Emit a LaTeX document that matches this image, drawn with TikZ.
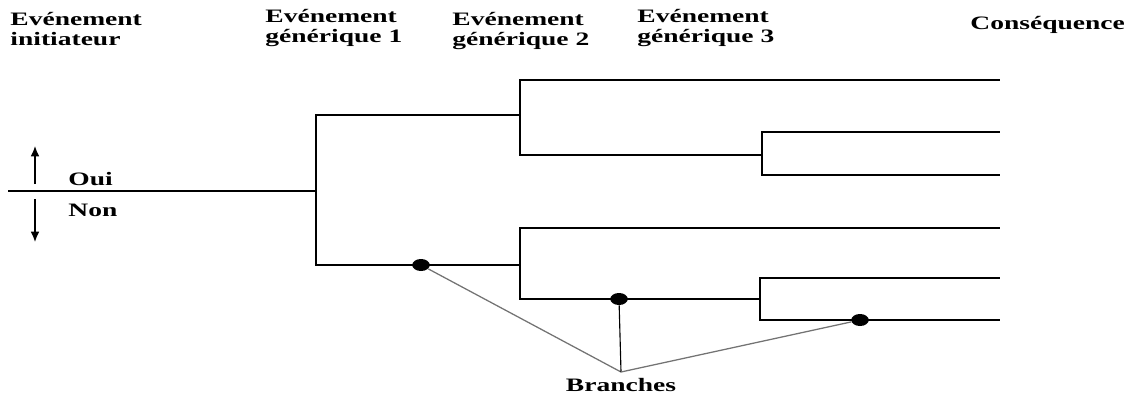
\documentclass[tikz,border=0pt]{standalone}
\usepackage{fontspec}
\setmainfont{Liberation Serif}
\usetikzlibrary{arrows.meta, positioning, shapes.geometric}

\begin{document}
\begin{tikzpicture}[x=0.025cm, y=-0.025cm,
        lbl/.style={font=\bfseries\fontsize{13.5}{14.5}\selectfont,
                    xscale=1.45, inner sep=0pt, align=left},
        tree/.style={line width=0.8pt},
        ptr/.style={line width=0.9pt, black!55},
        dot/.style={ellipse, fill=black, inner sep=0pt,
                    minimum width=0.44cm, minimum height=0.3cm},
        dir/.style={-{Latex[length=2.6mm,width=2.2mm]}, line width=0.9pt}]
      \useasboundingbox (0,0) rectangle (1136,394);
      % column headings
      \node[lbl, anchor=north west] (h0) at (10,12) {Evénement\\initiateur};
      \node[lbl, anchor=north west] (h1) at (265,9) {Evénement\\générique 1};
      \node[lbl, anchor=north west] (h2) at (452,12) {Evénement\\générique 2};
      \node[lbl, anchor=north west] (h3) at (637,9) {Evénement\\générique 3};
      \node[lbl, anchor=north west] (h4) at (970,16) {Conséquence};
      % junctions and ends
      \coordinate (s) at (8,191);
      \coordinate (j1) at (316,191);
      \coordinate (j2) at (520,115);
      \coordinate (j3) at (520,265);
      \coordinate (j4) at (762,155);
      \coordinate (j5) at (760,299);
      \coordinate (e1) at (1000,80);
      \coordinate (e2) at (1000,132);
      \coordinate (e3) at (1000,175);
      \coordinate (e4) at (1000,228);
      \coordinate (e5) at (1000,278);
      \coordinate (e6) at (1000,320);
      % tree
      \draw[tree] (s) -- (j1);
      \draw[tree] (j1) |- (j2);
      \draw[tree] (j1) |- (j3);
      \draw[tree] (j2) |- (e1);
      \draw[tree] (j2) |- (j4);
      \draw[tree] (j4) |- (e2);
      \draw[tree] (j4) |- (e3);
      \draw[tree] (j3) |- (e4);
      \draw[tree] (j3) |- (j5);
      \draw[tree] (j5) |- (e5);
      \draw[tree] (j5) |- (e6);
      % oui / non
      \coordinate (u0) at (35,184);
      \coordinate (u1) at (35,146);
      \coordinate (v0) at (35,199);
      \coordinate (v1) at (35,242);
      \draw[dir] (u0) -- (u1);
      \draw[dir] (v0) -- (v1);
      \node[lbl, anchor=west] (oui) at (68,179) {Oui};
      \node[lbl, anchor=west] (non) at (68,210) {Non};
      % branches
      \node[dot] (d1) at (421,265) {};
      \node[dot] (d2) at (619,299) {};
      \node[dot] (d3) at (860,320) {};
      \coordinate (br) at (621,372);
      \draw[ptr] (d1) -- (br);
      \draw[tree] (d2) -- (br);
      \draw[ptr] (d3) -- (br);
      \node[lbl] (brl) at (621,385) {Branches};
    \end{tikzpicture}
\end{document}
